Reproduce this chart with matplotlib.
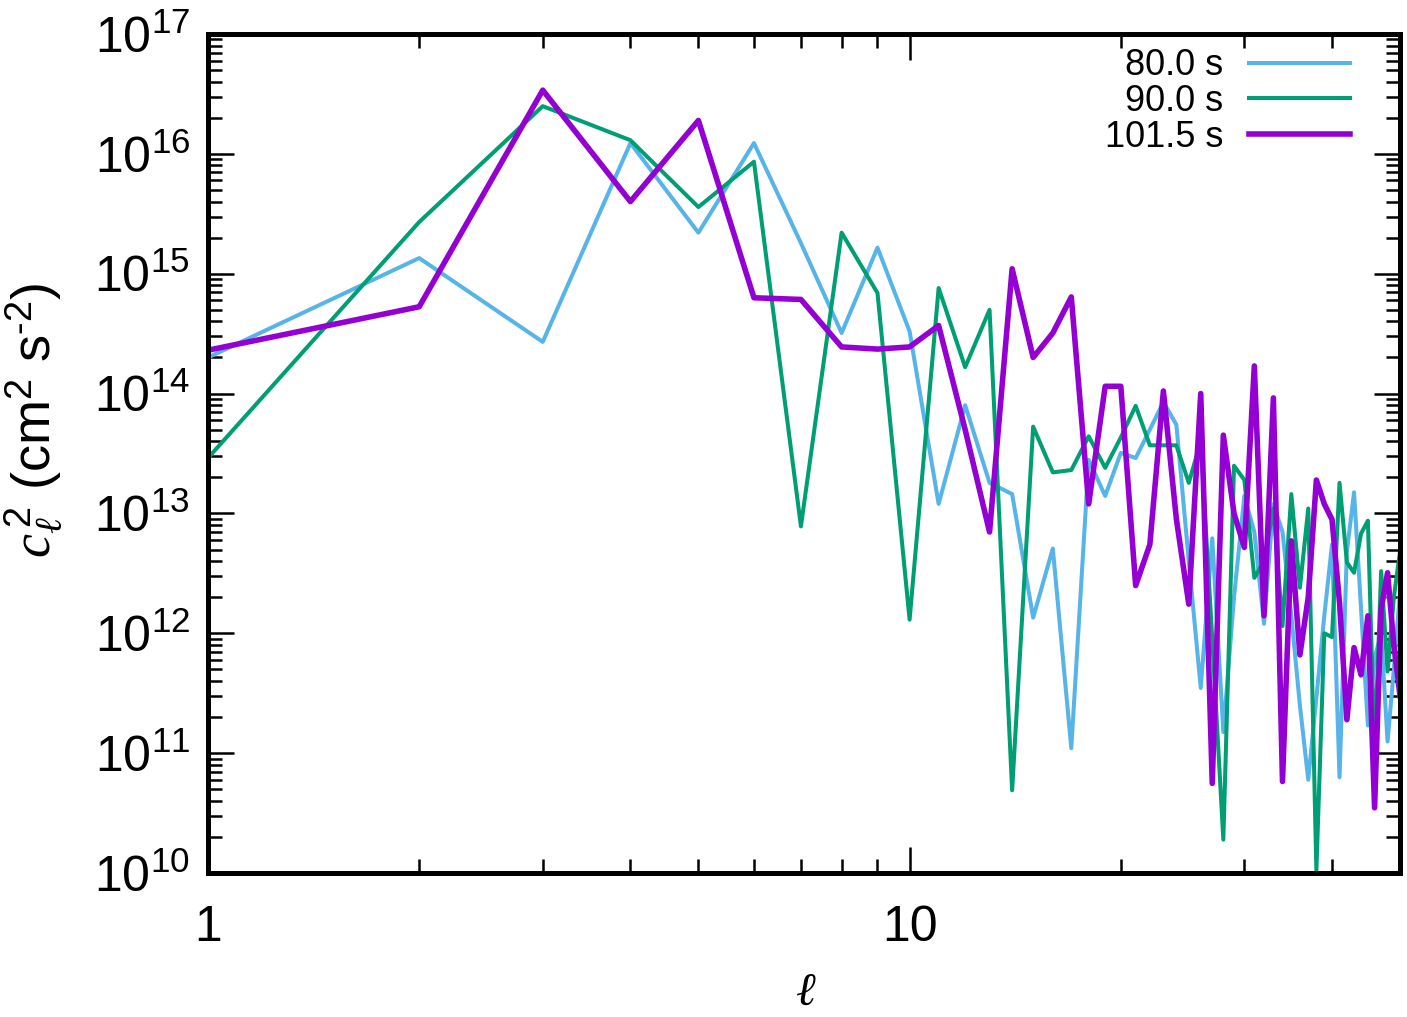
import numpy as np
import matplotlib
matplotlib.use("Agg")
import matplotlib.pyplot as plt
from matplotlib.ticker import FixedLocator, FixedFormatter, NullFormatter

plt.rcParams['font.family'] = ['Liberation Sans', 'DejaVu Sans']
plt.rcParams['mathtext.fontset'] = 'custom'
plt.rcParams['mathtext.rm'] = 'Liberation Sans'
plt.rcParams['mathtext.it'] = 'Liberation Serif:italic'

# multipole degree
ell = np.arange(1, 51)

# c_l^2 spectra (cm^2 s^-2)
c2_80 = [2.0e14, 1.35e15, 2.7e14, 1.23e16, 2.2e15, 1.23e16, 1.8e15, 3.2e14, 1.65e15, 3.3e14,
         1.2e13, 8.0e13, 1.8e13, 1.45e13, 1.35e12, 5.1e12, 1.1e11, 2.8e13, 1.4e13, 3.2e13,
         2.9e13, 5.0e13, 8.5e13, 5.5e13, 4.0e12, 3.5e11, 6.2e12, 1.5e11, 2.0e12, 1.4e13,
         7.0e12, 1.2e12, 1.2e13, 7.0e12, 1.4e12, 2.5e11, 6.0e10, 2.9e11, 1.4e12, 5.5e12,
         6.3e10, 4.8e12, 1.5e13, 1.6e12, 1.7e11, 6.2e11, 1.0e12, 1.25e11, 5.0e11, 2.2e12]

c2_90 = [2.9e13, 2.7e15, 2.5e16, 1.3e16, 3.6e15, 8.6e15, 7.8e12, 2.2e15, 6.9e14, 1.3e12,
         7.6e14, 1.66e14, 5.0e14, 4.9e10, 5.3e13, 2.2e13, 2.3e13, 4.4e13, 2.4e13, 4.3e13,
         7.9e13, 3.7e13, 3.7e13, 3.7e13, 1.8e13, 4.0e13, 9.0e11, 1.9e10, 2.5e13, 1.9e13,
         2.9e12, 4.0e12, 1.1e13, 1.15e12, 1.45e13, 2.4e12, 1.1e13, 1.05e10, 1.0e12, 9.3e11,
         1.8e13, 3.9e12, 3.2e12, 6.8e12, 8.7e12, 1.0e11, 3.3e12, 4.8e11, 2.0e12, 4.8e12]

c2_101 = [2.3e14, 5.3e14, 3.4e16, 4.0e15, 1.9e16, 6.3e14, 6.1e14, 2.45e14, 2.35e14, 2.45e14,
          3.7e14, 5.0e13, 7.0e12, 1.1e15, 2.0e14, 3.2e14, 6.4e14, 1.2e13, 1.15e14, 1.15e14,
          2.5e12, 5.5e12, 1.05e14, 9.0e12, 1.75e12, 1.0e14, 5.6e10, 4.5e13, 1.0e13, 5.2e12,
          1.7e14, 1.4e12, 9.2e13, 5.8e10, 5.9e12, 6.6e11, 2.0e12, 1.9e13, 1.2e13, 8.9e12,
          1.8e12, 1.9e11, 7.6e11, 4.5e11, 1.4e12, 3.5e10, 1.6e12, 3.2e12, 8.0e11, 3.0e11]

labels = ['80.0 s', '90.0 s', '101.5 s']
colors = ['#56b4e9', '#009e73', '#9400d3']

fig = plt.figure(figsize=(14.07, 10.17), dpi=100)
ax = fig.add_axes([208 / 1407, 1 - 873 / 1017, 1192 / 1407, 839 / 1017])

ax.plot(ell, c2_80, color=colors[0], lw=2.9, label=labels[0])
ax.plot(ell, c2_90, color=colors[1], lw=2.9, label=labels[1])
ax.plot(ell, c2_101, color=colors[2], lw=4.0, label=labels[2])

ax.set_xscale('log')
ax.set_yscale('log')
ax.set_xlim(1, 50)
ax.set_ylim(1e10, 1e17)

# ticks like gnuplot: inward on all sides
ax.xaxis.set_major_locator(FixedLocator([1, 10]))
ax.xaxis.set_major_formatter(FixedFormatter(['1', '10']))
ax.xaxis.set_minor_locator(FixedLocator([2, 3, 4, 5, 6, 7, 8, 9, 20, 30, 40, 50]))
ax.xaxis.set_minor_formatter(NullFormatter())

ydec = [10.0 ** k for k in range(10, 18)]
ax.yaxis.set_major_locator(FixedLocator(ydec))
ax.yaxis.set_major_formatter(FixedFormatter([r'$\mathregular{10^{%d}}$' % k for k in range(10, 18)]))
ax.yaxis.set_minor_locator(FixedLocator([m * 10.0 ** k for k in range(10, 17) for m in range(2, 10)]))
ax.yaxis.set_minor_formatter(NullFormatter())

ax.tick_params(which='both', direction='in', top=True, right=True, labelsize=36)
ax.tick_params(which='major', length=19, width=1.8)
ax.tick_params(which='minor', length=10, width=1.8)
ax.tick_params(axis='x', which='major', pad=23)
ax.tick_params(axis='y', which='major', pad=13)
for s in ax.spines.values():
    s.set_linewidth(3.6)

ax.set_xlabel(r'$\ell$', fontsize=34)
ax.xaxis.set_label_coords(0.5017, -0.117)
ax.set_ylabel(r'$c_{\ell}^{\,2}$ (cm$^{2}$ s$^{\text{-}2}$)', fontsize=39)
ax.yaxis.set_label_coords(-0.12, 0.54)

ax.legend(loc='upper right', bbox_to_anchor=(0.958, 0.983), frameon=False,
          markerfirst=False, fontsize=26, handlelength=2.8, handletextpad=0.7,
          labelspacing=0.02, borderpad=0, borderaxespad=0)

fig.savefig('out.png', dpi=100)
